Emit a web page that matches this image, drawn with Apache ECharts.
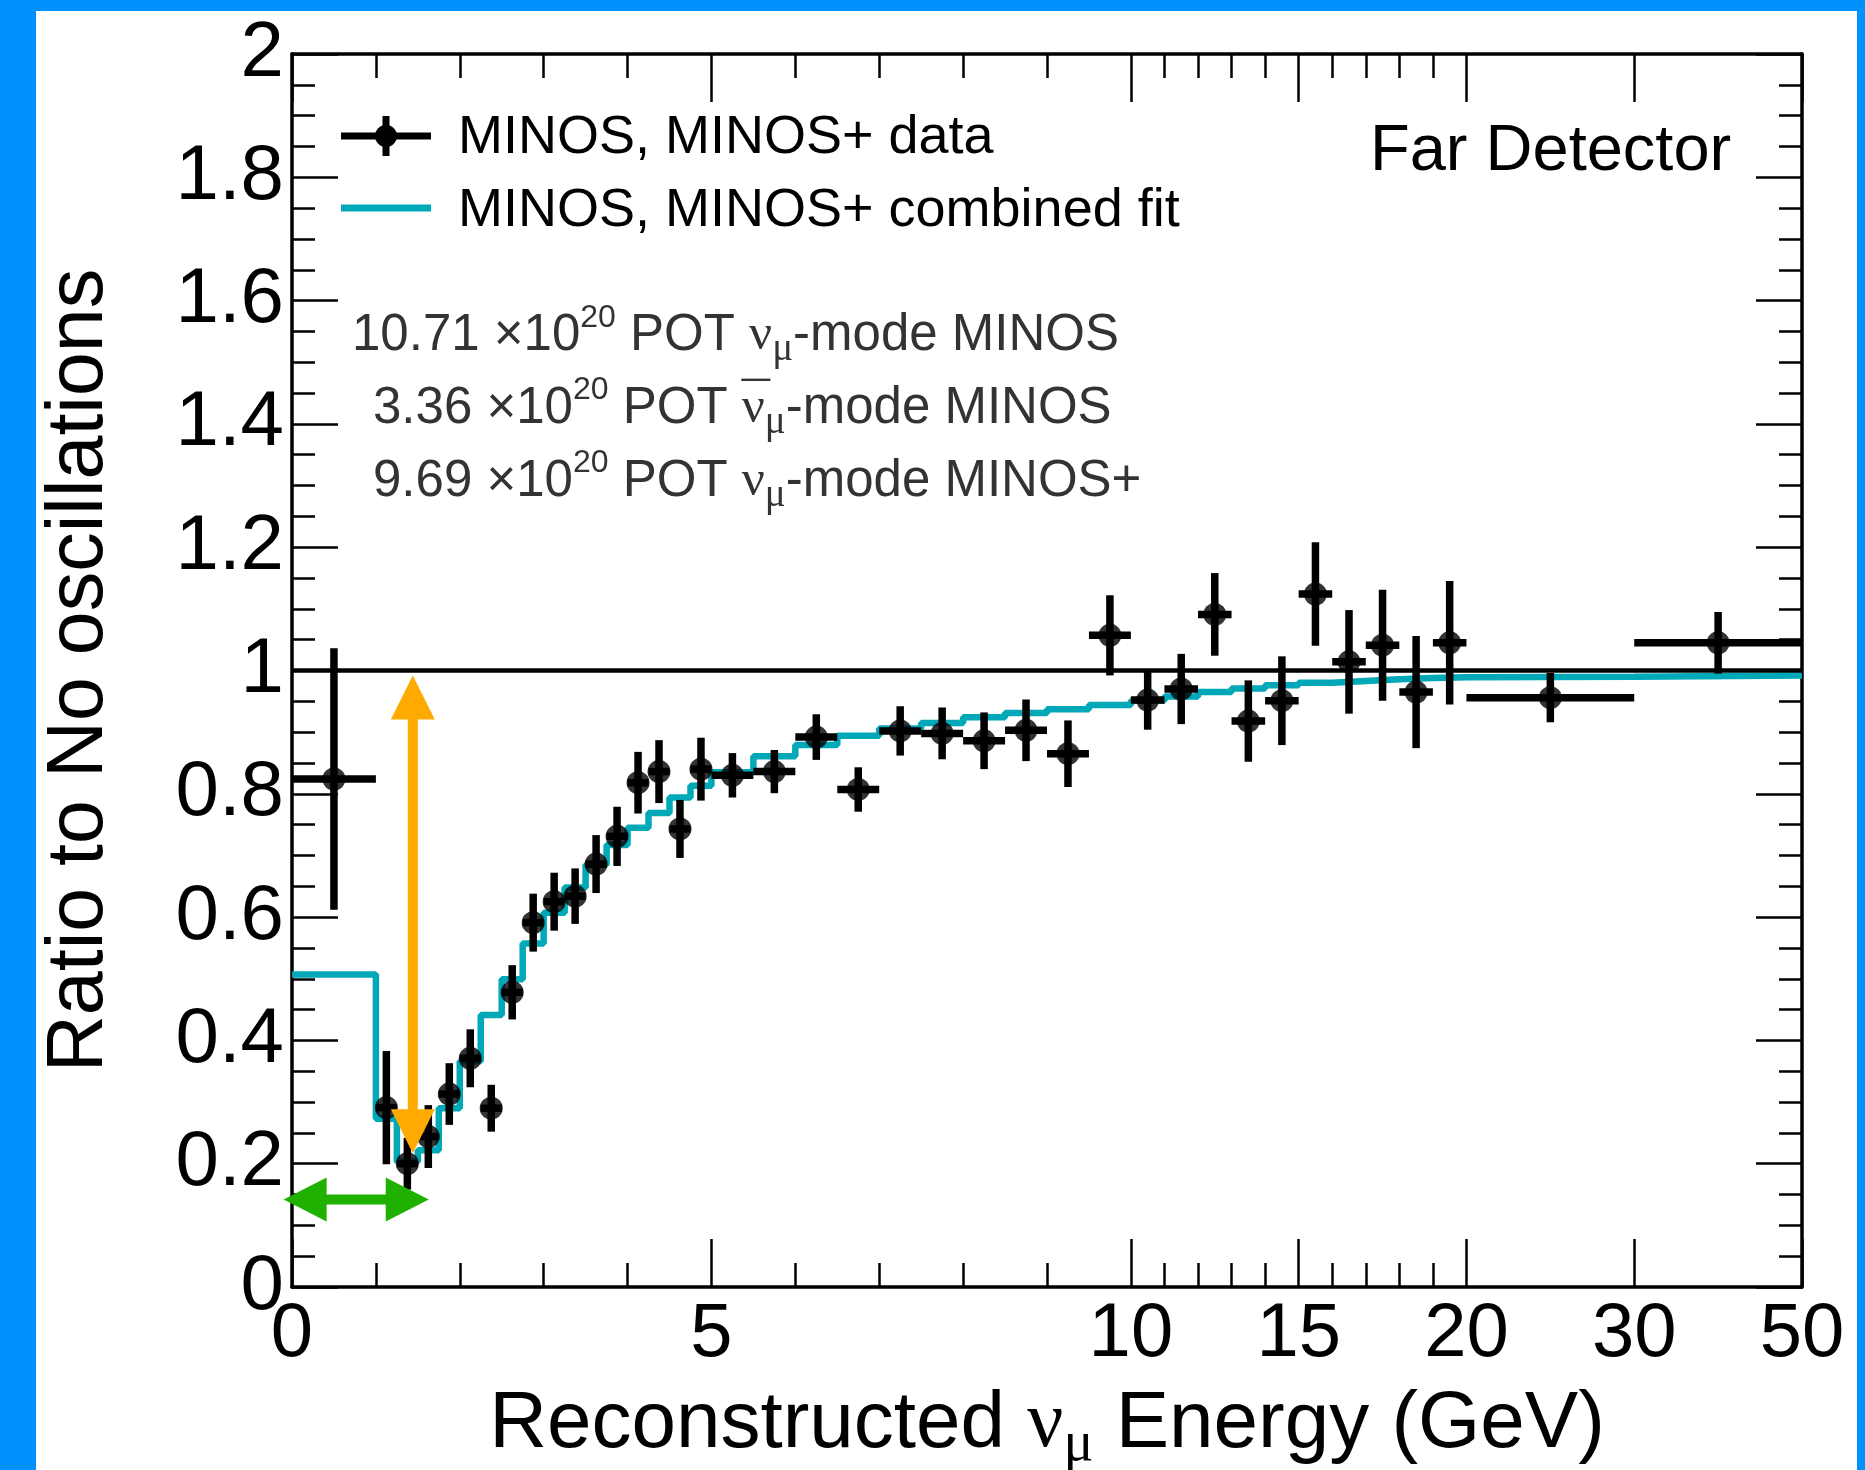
<!DOCTYPE html>
<html><head><meta charset="utf-8">
<script src="https://cdn.jsdelivr.net/npm/echarts@6/dist/echarts.min.js"></script>
<style>
html,body{margin:0;padding:0;background:#0091FF;width:1865px;height:1470px;overflow:hidden;}
#chart{position:absolute;left:36px;top:11px;width:1821px;height:1459px;background:#fff;}
</style></head><body><div id="chart"></div>
<script>
// ---- data (energies in GeV) ----
const binEdges = [0,1,1.25,1.5,1.75,2,2.25,2.5,2.75,3,3.25,3.5,3.75,4,4.25,4.5,4.75,5,5.5,6,6.5,7,7.5,8,8.5,9,9.5,10,11,12,13,14,15,16,17,18,19,20,30,50];
const dataRatio = [0.824,0.291,0.200,0.244,0.313,0.371,0.290,0.478,0.591,0.625,0.634,0.686,0.731,0.818,0.836,0.743,0.840,0.830,0.836,0.892,0.807,0.902,0.898,0.886,0.903,0.865,1.057,0.952,0.970,1.091,0.918,0.951,1.124,1.014,1.041,0.965,1.045,0.956,1.045];
const dataError = [0.212,0.092,0.042,0.051,0.050,0.047,0.038,0.044,0.047,0.047,0.045,0.047,0.048,0.050,0.051,0.047,0.051,0.036,0.035,0.037,0.036,0.040,0.042,0.046,0.050,0.054,0.065,0.048,0.057,0.067,0.066,0.072,0.084,0.084,0.090,0.091,0.100,0.040,0.050];
const fitRatio = [0.507,0.273,0.203,0.222,0.290,0.366,0.441,0.499,0.557,0.607,0.648,0.685,0.717,0.745,0.769,0.794,0.813,0.835,0.861,0.879,0.894,0.906,0.915,0.924,0.931,0.937,0.944,0.951,0.958,0.965,0.971,0.976,0.980,0.983,0.986,0.988,0.989,0.990,0.992];
const xMajorTicks = [0,5,10,15,20,30,50];
const xMinorTicks = [1,2,3,4,6,7,8,9,11,12,13,14,16,17,18,19];
const noOscLevel = 1;
const dipArrow = [1.44, 0.217, 0.992];     // energy, ratio from, ratio to
const rangeArrow = [-0.1, 1.63, 0.142];    // energy from, energy to, ratio

// piecewise axis segments: [from GeV, to GeV, relative scale]
const axisSegments = [[0,10,1],[10,20,0.4],[20,30,0.2],[30,50,0.1]];
function toAxis(E){ let u=0; for(const [a,b,s] of axisSegments){ if(E<=b) return u+(E-a)*s; u+=(b-a)*s; } return u; }
function fromAxis(u){ let acc=0; for(const [a,b,s] of axisSegments){ const w=(b-a)*s; if(u<=acc+w+1e-9) return a+(u-acc)/s; acc+=w; } return 50; }
const uMax = toAxis(50);

const CYAN='#00A8B8', ORANGE='#FFAA00', GREEN='#20B000';
const SANS='"Liberation Sans", Arial, Helvetica, sans-serif';
const SERIF='"Liberation Serif", "Times New Roman", serif';

const nBins = dataRatio.length;
const points = [], bars = [];
for(let i=0;i<nBins;i++){
  const lo=binEdges[i], hi=binEdges[i+1];
  const xc=toAxis((lo+hi)/2);
  points.push([xc, dataRatio[i]]);
  bars.push([xc, dataRatio[i], toAxis(lo), toAxis(hi), dataRatio[i]-dataError[i], dataRatio[i]+dataError[i]]);
}
const fitLine = binEdges.map((e,i)=>[toAxis(e), fitRatio[Math.min(i,nBins-1)]]);

function arrowPoly(p1,p2,shaft,headW,headL){
  const dx=p2[0]-p1[0], dy=p2[1]-p1[1], L=Math.hypot(dx,dy);
  const d=[dx/L,dy/L], n=[-d[1],d[0]];
  const P=(p,a,b)=>[p[0]+d[0]*a+n[0]*b, p[1]+d[1]*a+n[1]*b];
  return [p1, P(p1,headL,headW/2), P(p1,headL,shaft/2), P(p2,-headL,shaft/2), P(p2,-headL,headW/2), p2,
          P(p2,-headL,-headW/2), P(p2,-headL,-shaft/2), P(p1,headL,-shaft/2), P(p1,headL,-headW/2)];
}

const chart = echarts.init(document.getElementById('chart'), null, {renderer:'canvas'});
const tickLine={color:'#000',width:2.5};
function xAxisDef(pos, values, len, withLine, withLabel){
  return {type:'value', position:pos, min:0, max:uMax, gridIndex:0,
    axisLine:{show:withLine, onZero:false, lineStyle:{color:'#000',width:3.5}},
    axisTick:{show:true, inside:true, length:len, lineStyle:tickLine, customValues:values.map(toAxis)},
    axisLabel:{show:withLabel, customValues:values.map(toAxis), margin:10, color:'#000', fontSize:76, fontFamily:SANS,
      formatter:v=>String(Math.round(fromAxis(v)))},
    splitLine:{show:false}};
}
function yAxisDef(pos, withLabel){
  return {type:'value', position:pos, min:0, max:2, interval:0.2,
    axisLine:{show:true, onZero:false, lineStyle:{color:'#000',width:3.5}},
    axisTick:{show:true, inside:true, length:46, lineStyle:tickLine},
    minorTick:{show:true, splitNumber:4, length:23, lineStyle:tickLine},
    axisLabel:{show:withLabel, margin:8, color:'#000', fontSize:78, fontFamily:SANS},
    splitLine:{show:false}, minorSplitLine:{show:false}};
}
const xb = xAxisDef('bottom', xMajorTicks, 48, true, true);
xb.name = '{n|Reconstructed }{g|ν}{s|μ}{n| Energy (GeV)}';
xb.nameLocation='middle'; xb.nameGap=72;
xb.nameTextStyle={rich:{
  n:{fontSize:80,fontFamily:SANS,color:'#000',lineHeight:80,verticalAlign:'middle'},
  g:{fontSize:80,fontFamily:SERIF,color:'#000',lineHeight:80,verticalAlign:'middle'},
  s:{fontSize:56,fontFamily:SERIF,color:'#000',lineHeight:80,verticalAlign:'middle',padding:[39,0,0,0]}}};
const yl = yAxisDef('left', true);
yl.name='Ratio to No oscillations'; yl.nameLocation='middle'; yl.nameGap=172;
yl.nameTextStyle={fontSize:79,fontFamily:SANS,color:'#000'};

const potRich = {
  n:{fontSize:51,fontFamily:SANS,fill:'#333',lineHeight:60,verticalAlign:'middle'},
  g:{fontSize:51,fontFamily:SERIF,fill:'#333',lineHeight:60,verticalAlign:'middle'},
  ov:{fontSize:51,fontFamily:SANS,fill:'#333',lineHeight:60,verticalAlign:'middle',width:0.01,padding:[0,0,10,0]},
  sup:{fontSize:32,fontFamily:SANS,fill:'#333',lineHeight:60,verticalAlign:'middle',padding:[0,0,36,0]},
  sub:{fontSize:39,fontFamily:SERIF,fill:'#333',lineHeight:60,verticalAlign:'middle',padding:[28,0,0,0]}
};
const potLines = [
  ['{n|10.71 ×10}{sup|20}{n| POT }{g|ν}{sub|μ}{n|-mode MINOS}', 316, 325],
  ['{n|3.36 ×10}{sup|20}{n| POT }{ov|¯}{g|ν}{sub|μ}{n|-mode MINOS}', 337, 397.5],
  ['{n|9.69 ×10}{sup|20}{n| POT }{g|ν}{sub|μ}{n|-mode MINOS+}', 337, 470.5]
];

const option = {
  animation:false,
  grid:{left:256,right:55,top:43,bottom:183,containLabel:false,outerBoundsMode:'none'},
  xAxis:[xb, xAxisDef('bottom', xMinorTicks, 24, false, false), xAxisDef('top', xMajorTicks, 48, true, false), xAxisDef('top', xMinorTicks, 24, false, false)],
  yAxis:[yl, yAxisDef('right', false)],
  series:[
    {name:'MINOS, MINOS+ combined fit', type:'line', step:'end', data:fitLine, symbol:'none', z:2,
     lineStyle:{color:CYAN,width:6.5}, itemStyle:{color:CYAN},
     markLine:{silent:true, symbol:['none','none'], label:{show:false}, lineStyle:{color:'#000',width:4.5,type:'solid'}, data:[{yAxis:noOscLevel}]}},
    {name:'errors', type:'custom', data:bars, z:3, clip:false,
     encode:{x:[0,2,3], y:[1,4,5]},
     renderItem:(params, api)=>{
       const lo=api.coord([api.value(2),api.value(1)]), hi=api.coord([api.value(3),api.value(1)]);
       const top=api.coord([api.value(0),api.value(5)]), bot=api.coord([api.value(0),api.value(4)]);
       const st={stroke:'#000',lineWidth:7.5,lineCap:'butt'};
       return {type:'group',children:[
         {type:'line',shape:{x1:lo[0],y1:lo[1],x2:hi[0],y2:hi[1]},style:st},
         {type:'line',shape:{x1:top[0],y1:top[1],x2:bot[0],y2:bot[1]},style:st}]};
     }},
    {name:'MINOS, MINOS+ data', type:'scatter', data:points, symbol:'circle', symbolSize:23, z:4, itemStyle:{color:'#000'}},
    {name:'dip', type:'custom', data:[dipArrow], z:10, clip:false, encode:{x:0,y:[1,2]},
     renderItem:(params, api)=>{
       const p1=api.coord([toAxis(api.value(0)),api.value(1)]), p2=api.coord([toAxis(api.value(0)),api.value(2)]);
       return {type:'polygon',shape:{points:arrowPoly(p1,p2,10,44,44)},style:{fill:ORANGE}};
     }},
    {name:'range', type:'custom', data:[rangeArrow], z:10, clip:false, encode:{x:[0,1],y:2},
     renderItem:(params, api)=>{
       const p1=api.coord([toAxis(api.value(0)),api.value(2)]), p2=api.coord([toAxis(api.value(1)),api.value(2)]);
       return {type:'polygon',shape:{points:arrowPoly(p1,p2,10,44,43)},style:{fill:GREEN}};
     }}
  ],
  graphic:[
    {type:'line',shape:{x1:305,y1:125,x2:395,y2:125},style:{stroke:'#000',lineWidth:7},z:20},
    {type:'line',shape:{x1:350,y1:105,x2:350,y2:145},style:{stroke:'#000',lineWidth:7},z:20},
    {type:'circle',shape:{cx:350,cy:125,r:11},style:{fill:'#000'},z:20},
    {type:'text',x:422,y:127,style:{text:'MINOS, MINOS+ data',fontSize:54,fontFamily:SANS,fill:'#000',verticalAlign:'middle'},z:20},
    {type:'line',shape:{x1:305,y1:197,x2:395,y2:197},style:{stroke:CYAN,lineWidth:7},z:20},
    {type:'text',x:422,y:200,style:{text:'MINOS, MINOS+ combined fit',fontSize:54,fontFamily:SANS,fill:'#000',verticalAlign:'middle'},z:20},
    {type:'text',x:1334,y:141,style:{text:'Far Detector',fontSize:65,fontFamily:SANS,fill:'#000',verticalAlign:'middle'},z:20}
  ].concat(potLines.map(([t,x,y])=>({type:'text',x:x,y:y,z:20,style:{text:t,rich:potRich,verticalAlign:'middle',fontSize:51,fontFamily:SANS,fill:'#333'}})))
};
chart.setOption(option);
</script></body></html>
